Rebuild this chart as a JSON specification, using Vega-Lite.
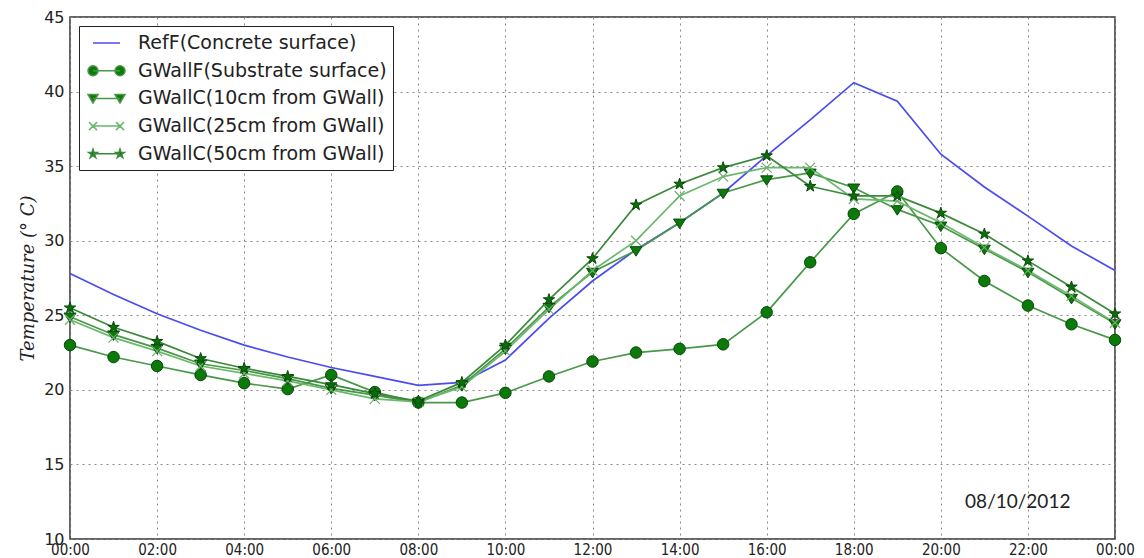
{
  "$schema": "https://vega.github.io/schema/vega-lite/v6.json",
  "autosize": "none",
  "width": 1045,
  "height": 522,
  "padding": {"left": 70, "top": 17, "right": 29, "bottom": 19},
  "background": "white",
  "config": {"view": {"stroke": "#333", "strokeWidth": 1.5}, "font": "DejaVu Sans"},
  "datasets": {
    "temps": [
      {"t": "2012-10-08T00:00:00", "s": "RefF(Concrete surface)", "v": 27.8},
      {"t": "2012-10-08T01:00:00", "s": "RefF(Concrete surface)", "v": 26.4},
      {"t": "2012-10-08T02:00:00", "s": "RefF(Concrete surface)", "v": 25.1},
      {"t": "2012-10-08T03:00:00", "s": "RefF(Concrete surface)", "v": 24.0},
      {"t": "2012-10-08T04:00:00", "s": "RefF(Concrete surface)", "v": 23.0},
      {"t": "2012-10-08T05:00:00", "s": "RefF(Concrete surface)", "v": 22.2},
      {"t": "2012-10-08T06:00:00", "s": "RefF(Concrete surface)", "v": 21.5},
      {"t": "2012-10-08T07:00:00", "s": "RefF(Concrete surface)", "v": 20.9},
      {"t": "2012-10-08T08:00:00", "s": "RefF(Concrete surface)", "v": 20.3},
      {"t": "2012-10-08T09:00:00", "s": "RefF(Concrete surface)", "v": 20.5},
      {"t": "2012-10-08T10:00:00", "s": "RefF(Concrete surface)", "v": 22.0},
      {"t": "2012-10-08T11:00:00", "s": "RefF(Concrete surface)", "v": 24.8},
      {"t": "2012-10-08T12:00:00", "s": "RefF(Concrete surface)", "v": 27.3},
      {"t": "2012-10-08T13:00:00", "s": "RefF(Concrete surface)", "v": 29.4},
      {"t": "2012-10-08T14:00:00", "s": "RefF(Concrete surface)", "v": 31.2},
      {"t": "2012-10-08T15:00:00", "s": "RefF(Concrete surface)", "v": 33.2},
      {"t": "2012-10-08T16:00:00", "s": "RefF(Concrete surface)", "v": 35.7},
      {"t": "2012-10-08T17:00:00", "s": "RefF(Concrete surface)", "v": 38.1},
      {"t": "2012-10-08T18:00:00", "s": "RefF(Concrete surface)", "v": 40.6},
      {"t": "2012-10-08T19:00:00", "s": "RefF(Concrete surface)", "v": 39.35},
      {"t": "2012-10-08T20:00:00", "s": "RefF(Concrete surface)", "v": 35.8},
      {"t": "2012-10-08T21:00:00", "s": "RefF(Concrete surface)", "v": 33.6},
      {"t": "2012-10-08T22:00:00", "s": "RefF(Concrete surface)", "v": 31.65},
      {"t": "2012-10-08T23:00:00", "s": "RefF(Concrete surface)", "v": 29.65},
      {"t": "2012-10-09T00:00:00", "s": "RefF(Concrete surface)", "v": 28.0},

      {"t": "2012-10-08T00:00:00", "s": "GWallF(Substrate surface)", "v": 23.0},
      {"t": "2012-10-08T01:00:00", "s": "GWallF(Substrate surface)", "v": 22.2},
      {"t": "2012-10-08T02:00:00", "s": "GWallF(Substrate surface)", "v": 21.6},
      {"t": "2012-10-08T03:00:00", "s": "GWallF(Substrate surface)", "v": 21.0},
      {"t": "2012-10-08T04:00:00", "s": "GWallF(Substrate surface)", "v": 20.45},
      {"t": "2012-10-08T05:00:00", "s": "GWallF(Substrate surface)", "v": 20.05},
      {"t": "2012-10-08T06:00:00", "s": "GWallF(Substrate surface)", "v": 21.0},
      {"t": "2012-10-08T07:00:00", "s": "GWallF(Substrate surface)", "v": 19.85},
      {"t": "2012-10-08T08:00:00", "s": "GWallF(Substrate surface)", "v": 19.15},
      {"t": "2012-10-08T09:00:00", "s": "GWallF(Substrate surface)", "v": 19.15},
      {"t": "2012-10-08T10:00:00", "s": "GWallF(Substrate surface)", "v": 19.8},
      {"t": "2012-10-08T11:00:00", "s": "GWallF(Substrate surface)", "v": 20.9},
      {"t": "2012-10-08T12:00:00", "s": "GWallF(Substrate surface)", "v": 21.9},
      {"t": "2012-10-08T13:00:00", "s": "GWallF(Substrate surface)", "v": 22.5},
      {"t": "2012-10-08T14:00:00", "s": "GWallF(Substrate surface)", "v": 22.75},
      {"t": "2012-10-08T15:00:00", "s": "GWallF(Substrate surface)", "v": 23.05},
      {"t": "2012-10-08T16:00:00", "s": "GWallF(Substrate surface)", "v": 25.2},
      {"t": "2012-10-08T17:00:00", "s": "GWallF(Substrate surface)", "v": 28.55},
      {"t": "2012-10-08T18:00:00", "s": "GWallF(Substrate surface)", "v": 31.8},
      {"t": "2012-10-08T19:00:00", "s": "GWallF(Substrate surface)", "v": 33.3},
      {"t": "2012-10-08T20:00:00", "s": "GWallF(Substrate surface)", "v": 29.5},
      {"t": "2012-10-08T21:00:00", "s": "GWallF(Substrate surface)", "v": 27.3},
      {"t": "2012-10-08T22:00:00", "s": "GWallF(Substrate surface)", "v": 25.65},
      {"t": "2012-10-08T23:00:00", "s": "GWallF(Substrate surface)", "v": 24.4},
      {"t": "2012-10-09T00:00:00", "s": "GWallF(Substrate surface)", "v": 23.35},

      {"t": "2012-10-08T00:00:00", "s": "GWallC(10cm from GWall)", "v": 24.9},
      {"t": "2012-10-08T01:00:00", "s": "GWallC(10cm from GWall)", "v": 23.7},
      {"t": "2012-10-08T02:00:00", "s": "GWallC(10cm from GWall)", "v": 22.8},
      {"t": "2012-10-08T03:00:00", "s": "GWallC(10cm from GWall)", "v": 21.75},
      {"t": "2012-10-08T04:00:00", "s": "GWallC(10cm from GWall)", "v": 21.3},
      {"t": "2012-10-08T05:00:00", "s": "GWallC(10cm from GWall)", "v": 20.75},
      {"t": "2012-10-08T06:00:00", "s": "GWallC(10cm from GWall)", "v": 20.1},
      {"t": "2012-10-08T07:00:00", "s": "GWallC(10cm from GWall)", "v": 19.65},
      {"t": "2012-10-08T08:00:00", "s": "GWallC(10cm from GWall)", "v": 19.15},
      {"t": "2012-10-08T09:00:00", "s": "GWallC(10cm from GWall)", "v": 20.3},
      {"t": "2012-10-08T10:00:00", "s": "GWallC(10cm from GWall)", "v": 22.75},
      {"t": "2012-10-08T11:00:00", "s": "GWallC(10cm from GWall)", "v": 25.55},
      {"t": "2012-10-08T12:00:00", "s": "GWallC(10cm from GWall)", "v": 27.9},
      {"t": "2012-10-08T13:00:00", "s": "GWallC(10cm from GWall)", "v": 29.35},
      {"t": "2012-10-08T14:00:00", "s": "GWallC(10cm from GWall)", "v": 31.2},
      {"t": "2012-10-08T15:00:00", "s": "GWallC(10cm from GWall)", "v": 33.2},
      {"t": "2012-10-08T16:00:00", "s": "GWallC(10cm from GWall)", "v": 34.1},
      {"t": "2012-10-08T17:00:00", "s": "GWallC(10cm from GWall)", "v": 34.55},
      {"t": "2012-10-08T18:00:00", "s": "GWallC(10cm from GWall)", "v": 33.55},
      {"t": "2012-10-08T19:00:00", "s": "GWallC(10cm from GWall)", "v": 32.1},
      {"t": "2012-10-08T20:00:00", "s": "GWallC(10cm from GWall)", "v": 31.0},
      {"t": "2012-10-08T21:00:00", "s": "GWallC(10cm from GWall)", "v": 29.45},
      {"t": "2012-10-08T22:00:00", "s": "GWallC(10cm from GWall)", "v": 27.9},
      {"t": "2012-10-08T23:00:00", "s": "GWallC(10cm from GWall)", "v": 26.15},
      {"t": "2012-10-09T00:00:00", "s": "GWallC(10cm from GWall)", "v": 24.45},

      {"t": "2012-10-08T00:00:00", "s": "GWallC(25cm from GWall)", "v": 24.7},
      {"t": "2012-10-08T01:00:00", "s": "GWallC(25cm from GWall)", "v": 23.5},
      {"t": "2012-10-08T02:00:00", "s": "GWallC(25cm from GWall)", "v": 22.6},
      {"t": "2012-10-08T03:00:00", "s": "GWallC(25cm from GWall)", "v": 21.6},
      {"t": "2012-10-08T04:00:00", "s": "GWallC(25cm from GWall)", "v": 21.1},
      {"t": "2012-10-08T05:00:00", "s": "GWallC(25cm from GWall)", "v": 20.6},
      {"t": "2012-10-08T06:00:00", "s": "GWallC(25cm from GWall)", "v": 20.0},
      {"t": "2012-10-08T07:00:00", "s": "GWallC(25cm from GWall)", "v": 19.4},
      {"t": "2012-10-08T08:00:00", "s": "GWallC(25cm from GWall)", "v": 19.2},
      {"t": "2012-10-08T09:00:00", "s": "GWallC(25cm from GWall)", "v": 20.2},
      {"t": "2012-10-08T10:00:00", "s": "GWallC(25cm from GWall)", "v": 22.6},
      {"t": "2012-10-08T11:00:00", "s": "GWallC(25cm from GWall)", "v": 25.4},
      {"t": "2012-10-08T12:00:00", "s": "GWallC(25cm from GWall)", "v": 28.0},
      {"t": "2012-10-08T13:00:00", "s": "GWallC(25cm from GWall)", "v": 30.0},
      {"t": "2012-10-08T14:00:00", "s": "GWallC(25cm from GWall)", "v": 33.0},
      {"t": "2012-10-08T15:00:00", "s": "GWallC(25cm from GWall)", "v": 34.3},
      {"t": "2012-10-08T16:00:00", "s": "GWallC(25cm from GWall)", "v": 34.9},
      {"t": "2012-10-08T17:00:00", "s": "GWallC(25cm from GWall)", "v": 34.9},
      {"t": "2012-10-08T18:00:00", "s": "GWallC(25cm from GWall)", "v": 32.8},
      {"t": "2012-10-08T19:00:00", "s": "GWallC(25cm from GWall)", "v": 32.65},
      {"t": "2012-10-08T20:00:00", "s": "GWallC(25cm from GWall)", "v": 31.2},
      {"t": "2012-10-08T21:00:00", "s": "GWallC(25cm from GWall)", "v": 29.55},
      {"t": "2012-10-08T22:00:00", "s": "GWallC(25cm from GWall)", "v": 28.0},
      {"t": "2012-10-08T23:00:00", "s": "GWallC(25cm from GWall)", "v": 26.3},
      {"t": "2012-10-09T00:00:00", "s": "GWallC(25cm from GWall)", "v": 24.5},

      {"t": "2012-10-08T00:00:00", "s": "GWallC(50cm from GWall)", "v": 25.5},
      {"t": "2012-10-08T01:00:00", "s": "GWallC(50cm from GWall)", "v": 24.2},
      {"t": "2012-10-08T02:00:00", "s": "GWallC(50cm from GWall)", "v": 23.25},
      {"t": "2012-10-08T03:00:00", "s": "GWallC(50cm from GWall)", "v": 22.1},
      {"t": "2012-10-08T04:00:00", "s": "GWallC(50cm from GWall)", "v": 21.45},
      {"t": "2012-10-08T05:00:00", "s": "GWallC(50cm from GWall)", "v": 20.9},
      {"t": "2012-10-08T06:00:00", "s": "GWallC(50cm from GWall)", "v": 20.35},
      {"t": "2012-10-08T07:00:00", "s": "GWallC(50cm from GWall)", "v": 19.75},
      {"t": "2012-10-08T08:00:00", "s": "GWallC(50cm from GWall)", "v": 19.25},
      {"t": "2012-10-08T09:00:00", "s": "GWallC(50cm from GWall)", "v": 20.5},
      {"t": "2012-10-08T10:00:00", "s": "GWallC(50cm from GWall)", "v": 23.0},
      {"t": "2012-10-08T11:00:00", "s": "GWallC(50cm from GWall)", "v": 26.05},
      {"t": "2012-10-08T12:00:00", "s": "GWallC(50cm from GWall)", "v": 28.8},
      {"t": "2012-10-08T13:00:00", "s": "GWallC(50cm from GWall)", "v": 32.4},
      {"t": "2012-10-08T14:00:00", "s": "GWallC(50cm from GWall)", "v": 33.8},
      {"t": "2012-10-08T15:00:00", "s": "GWallC(50cm from GWall)", "v": 34.9},
      {"t": "2012-10-08T16:00:00", "s": "GWallC(50cm from GWall)", "v": 35.7},
      {"t": "2012-10-08T17:00:00", "s": "GWallC(50cm from GWall)", "v": 33.65},
      {"t": "2012-10-08T18:00:00", "s": "GWallC(50cm from GWall)", "v": 33.0},
      {"t": "2012-10-08T19:00:00", "s": "GWallC(50cm from GWall)", "v": 33.0},
      {"t": "2012-10-08T20:00:00", "s": "GWallC(50cm from GWall)", "v": 31.85},
      {"t": "2012-10-08T21:00:00", "s": "GWallC(50cm from GWall)", "v": 30.45},
      {"t": "2012-10-08T22:00:00", "s": "GWallC(50cm from GWall)", "v": 28.65},
      {"t": "2012-10-08T23:00:00", "s": "GWallC(50cm from GWall)", "v": 26.9},
      {"t": "2012-10-09T00:00:00", "s": "GWallC(50cm from GWall)", "v": 25.1}
    ]
  },
  "layer": [
    {
      "data": {"name": "temps"},
      "mark": {"type": "line", "strokeWidth": 1.7},
      "encoding": {
        "x": {
          "field": "t", "type": "temporal",
          "scale": {"domain": [{"year": 2012, "month": 10, "date": 8, "hours": 0}, {"year": 2012, "month": 10, "date": 9, "hours": 0}]},
          "axis": {
            "title": null, "format": "%H:%M",
            "values": [
              {"year": 2012, "month": 10, "date": 8, "hours": 0},
              {"year": 2012, "month": 10, "date": 8, "hours": 2},
              {"year": 2012, "month": 10, "date": 8, "hours": 4},
              {"year": 2012, "month": 10, "date": 8, "hours": 6},
              {"year": 2012, "month": 10, "date": 8, "hours": 8},
              {"year": 2012, "month": 10, "date": 8, "hours": 10},
              {"year": 2012, "month": 10, "date": 8, "hours": 12},
              {"year": 2012, "month": 10, "date": 8, "hours": 14},
              {"year": 2012, "month": 10, "date": 8, "hours": 16},
              {"year": 2012, "month": 10, "date": 8, "hours": 18},
              {"year": 2012, "month": 10, "date": 8, "hours": 20},
              {"year": 2012, "month": 10, "date": 8, "hours": 22},
              {"year": 2012, "month": 10, "date": 9, "hours": 0}
            ],
            "grid": true, "gridDash": [2, 4], "gridColor": "#888", "gridWidth": 1,
            "ticks": false, "domain": false, "labelFlush": false, "labelOverlap": false,
            "labelFont": "DejaVu Sans Condensed", "labelFontSize": 15, "labelColor": "#222", "labelPadding": 3
          }
        },
        "y": {
          "field": "v", "type": "quantitative",
          "scale": {"domain": [10, 45], "nice": false, "zero": false},
          "axis": {
            "title": "Temperature (° C)", "titleFont": "DejaVu Serif", "titleFontStyle": "italic",
            "titleFontWeight": "normal", "titleFontSize": 18, "titleColor": "#222", "titlePadding": 6,
            "values": [10, 15, 20, 25, 30, 35, 40, 45],
            "grid": true, "gridDash": [2, 4], "gridColor": "#888", "gridWidth": 1,
            "ticks": false, "domain": false,
            "labelFont": "DejaVu Sans", "labelFontSize": 16, "labelColor": "#222", "labelPadding": 6
          }
        },
        "stroke": {
          "field": "s", "type": "nominal",
          "scale": {
            "domain": ["RefF(Concrete surface)", "GWallF(Substrate surface)", "GWallC(10cm from GWall)", "GWallC(25cm from GWall)", "GWallC(50cm from GWall)"],
            "range": ["#4b4bef", "#489848", "#489848", "#6cb86c", "#3a8a3a"]
          },
          "legend": {
            "orient": "top-left", "offset": 9, "title": null,
            "symbolSize": 400, "symbolStrokeWidth": 1.5, "symbolFillColor": "#0b7a0b",
            "labelFontSize": 19, "labelFont": "DejaVu Sans", "labelColor": "#222",
            "labelOffset": 31, "rowPadding": 6.7, "padding": 6, "labelLimit": 400,
            "strokeColor": "#222", "fillColor": "white"
          }
        }
      }
    },
    {
      "data": {"name": "temps"},
      "transform": [{"filter": "datum.s === 'GWallF(Substrate surface)'"}],
      "mark": {"type": "point", "shape": "M-1.15,0A1.15,1.15 0 1,0 1.15,0A1.15,1.15 0 1,0 -1.15,0Z", "size": 100, "fill": "#0b7a0b", "stroke": "#0a4a0a", "strokeWidth": 1, "opacity": 1, "fillOpacity": 1},
      "encoding": {"x": {"field": "t", "type": "temporal"}, "y": {"field": "v", "type": "quantitative"}}
    },
    {
      "data": {"name": "temps"},
      "transform": [{"filter": "datum.s === 'GWallC(10cm from GWall)'"}],
      "mark": {"type": "point", "shape": "M-1.2,-0.75L1.2,-0.75L0,1.15Z", "size": 100, "fill": "#0b7a0b", "stroke": "#0a4a0a", "strokeWidth": 1, "opacity": 1, "fillOpacity": 1},
      "encoding": {"x": {"field": "t", "type": "temporal"}, "y": {"field": "v", "type": "quantitative"}}
    },
    {
      "data": {"name": "temps"},
      "transform": [{"filter": "datum.s === 'GWallC(25cm from GWall)'"}],
      "mark": {"type": "point", "shape": "M-1,-1L1,1M-1,1L1,-1", "size": 100, "fill": "transparent", "stroke": "#6fae6f", "strokeWidth": 1.2, "opacity": 1},
      "encoding": {"x": {"field": "t", "type": "temporal"}, "y": {"field": "v", "type": "quantitative"}}
    },
    {
      "data": {"name": "temps"},
      "transform": [{"filter": "datum.s === 'GWallC(50cm from GWall)'"}],
      "mark": {"type": "point", "shape": "M0,-1.2L0.269,-0.371L1.141,-0.371L0.436,0.142L0.706,0.971L0,0.458L-0.706,0.971L-0.436,0.142L-1.141,-0.371L-0.269,-0.371Z", "size": 100, "fill": "#0b6e0b", "stroke": "#0a4a0a", "strokeWidth": 1, "opacity": 1, "fillOpacity": 1},
      "encoding": {"x": {"field": "t", "type": "temporal"}, "y": {"field": "v", "type": "quantitative"}}
    },
    {
      "data": {"name": "temps"},
      "transform": [{"filter": "datum.v > 1000"}],
      "mark": {"type": "point", "filled": true, "opacity": 1, "strokeWidth": 1.5},
      "encoding": {
        "x": {"field": "t", "type": "temporal"},
        "y": {"field": "v", "type": "quantitative"},
        "color": {
          "field": "s", "type": "nominal",
          "scale": {
            "domain": ["RefF(Concrete surface)", "GWallF(Substrate surface)", "GWallC(10cm from GWall)", "GWallC(25cm from GWall)", "GWallC(50cm from GWall)"],
            "range": ["#4b4bef", "#0b7a0b", "#0b7a0b", "#7cc47c", "#0b6e0b"]
          },
          "legend": {
            "orient": "top-left", "offset": 9, "title": null,
            "symbolSize": 400, "symbolStrokeWidth": 1.5, "symbolFillColor": "#0b7a0b",
            "labelFontSize": 19, "labelFont": "DejaVu Sans", "labelColor": "#222",
            "labelOffset": 31, "rowPadding": 6.7, "padding": 6, "labelLimit": 400,
            "strokeColor": "#222", "fillColor": "white"
          }
        },
        "stroke": {"field": "s", "type": "nominal"},
        "shape": {
          "field": "s", "type": "nominal",
          "scale": {
            "domain": ["RefF(Concrete surface)", "GWallF(Substrate surface)", "GWallC(10cm from GWall)", "GWallC(25cm from GWall)", "GWallC(50cm from GWall)"],
            "range": [
              "M-0.3,0L2.4,0",
              "M-0.3,0L2.4,0M-0.8,0A0.5,0.5 0 1,0 0.2,0A0.5,0.5 0 1,0 -0.8,0ZM1.9,0A0.5,0.5 0 1,0 2.9,0A0.5,0.5 0 1,0 1.9,0Z",
              "M-0.3,0L2.4,0M-0.8,-0.4L0.2,-0.4L-0.3,0.45ZM1.9,-0.4L2.9,-0.4L2.4,0.45Z",
              "M-0.3,0L2.4,0M-0.7,-0.4L0.1,0.4M-0.7,0.4L0.1,-0.4M2.0,-0.4L2.8,0.4M2.0,0.4L2.8,-0.4",
              "M-0.3,0L2.4,0M-0.3,-0.45L-0.199,-0.139L0.128,-0.139L-0.137,0.053L-0.035,0.364L-0.3,0.172L-0.565,0.364L-0.463,0.053L-0.728,-0.139L-0.401,-0.139ZM2.4,-0.45L2.501,-0.139L2.828,-0.139L2.563,0.053L2.665,0.364L2.4,0.172L2.135,0.364L2.237,0.053L1.972,-0.139L2.299,-0.139Z"
            ]
          },
          "legend": {
            "orient": "top-left", "offset": 9, "title": null,
            "symbolSize": 400, "symbolStrokeWidth": 1.5, "symbolFillColor": "#0b7a0b",
            "labelFontSize": 19, "labelFont": "DejaVu Sans", "labelColor": "#222",
            "labelOffset": 31, "rowPadding": 6.7, "padding": 6, "labelLimit": 400,
            "strokeColor": "#222", "fillColor": "white"
          }
        }
      }
    },
    {
      "data": {"values": [{"t": "2012-10-08T21:46:00", "v": 12.5, "label": "08/10/2012"}]},
      "mark": {"type": "text", "fontSize": 19, "font": "Lato", "color": "#222"},
      "encoding": {
        "x": {"field": "t", "type": "temporal"},
        "y": {"field": "v", "type": "quantitative"},
        "text": {"field": "label"}
      }
    }
  ]
}
